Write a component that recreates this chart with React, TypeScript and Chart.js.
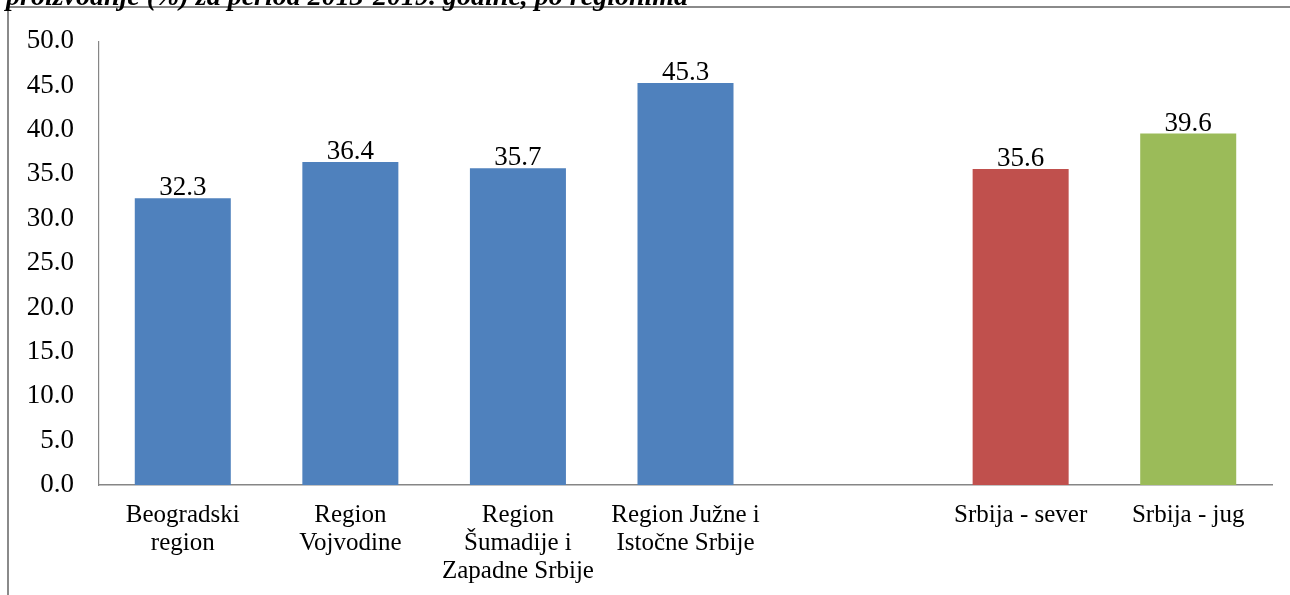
import { useEffect, useRef } from "react";
import { Chart, registerables } from "chart.js";

Chart.register(...registerables);

// Categories (multi-line labels); the empty slot separates regions from the north/south totals
const categories: (string | string[])[] = [
  ["Beogradski", "region"],
  ["Region", "Vojvodine"],
  ["Region", "Šumadije i", "Zapadne Srbije"],
  ["Region Južne i", "Istočne Srbije"],
  "",
  ["Srbija - sever"],
  ["Srbija - jug"],
];

const values: (number | null)[] = [32.3, 36.4, 35.7, 45.3, null, 35.6, 39.6];

const barColors = ["#4F81BD", "#4F81BD", "#4F81BD", "#4F81BD", "#4F81BD", "#C0504D", "#9BBB59"];

const titleText = "proizvodnje (%) za period 2013-2019. godine, po regionima";

const yMin = 0;
const yMax = 50;
const yStep = 5;

const FONT = "'Liberation Serif', 'Times New Roman', serif";

// Draws the frame, the (cropped) heading and the value labels above each bar
const decorations = {
  id: "decorations",
  afterDraw(chart: Chart) {
    const ctx = chart.ctx;
    ctx.save();
    // frame
    ctx.strokeStyle = "#8a8a8a";
    ctx.lineWidth = 2;
    ctx.beginPath();
    ctx.moveTo(8, 600);
    ctx.lineTo(8, 7);
    ctx.lineTo(1300, 7);
    ctx.stroke();
    // heading
    ctx.fillStyle = "#000";
    ctx.font = `italic bold 28px ${FONT}`;
    ctx.textAlign = "left";
    ctx.textBaseline = "alphabetic";
    ctx.fillText(titleText, 6, 5);
    // value labels
    ctx.font = `27px ${FONT}`;
    ctx.textAlign = "center";
    const meta = chart.getDatasetMeta(0);
    meta.data.forEach((bar: any, i: number) => {
      const v = values[i];
      if (v == null) return;
      ctx.fillText(v.toFixed(1), bar.x, bar.y - 3);
    });
    ctx.restore();
  },
};

export default function App() {
  const canvasRef = useRef<HTMLCanvasElement | null>(null);

  useEffect(() => {
    if (!canvasRef.current) return;
    const chart = new Chart(canvasRef.current, {
      type: "bar",
      data: {
        labels: categories,
        datasets: [
          {
            data: values,
            backgroundColor: barColors,
            borderWidth: 0,
            categoryPercentage: 1,
            barPercentage: 0.573,
          },
        ],
      },
      options: {
        animation: false,
        responsive: false,
        maintainAspectRatio: false,
        layout: { padding: { left: 0, top: 38, right: 18, bottom: 0 } },
        plugins: {
          legend: { display: false },
          tooltip: { enabled: false },
          title: { display: false },
        },
        scales: {
          x: {
            grid: { display: false, drawTicks: false },
            border: { display: true, color: "#868686", width: 1.5 },
            ticks: {
              color: "#000",
              font: { family: FONT, size: 25, lineHeight: 1.12 },
              padding: 16,
              maxRotation: 0,
              autoSkip: false,
            },
            afterFit: (scale: any) => {
              scale.height = 110;
            },
          },
          y: {
            min: yMin,
            max: yMax,
            grid: { display: false, drawTicks: false },
            border: { display: true, color: "#868686", width: 1.2 },
            ticks: {
              stepSize: yStep,
              color: "#000",
              font: { family: FONT, size: 27 },
              padding: 25,
              callback: (v: any) => Number(v).toFixed(1),
            },
            afterFit: (scale: any) => {
              scale.width = 99;
            },
          },
        },
      },
      plugins: [decorations],
    });
    return () => chart.destroy();
  }, []);

  return (
    <div
      style={{
        position: "absolute",
        left: 0,
        top: 0,
        width: 1290,
        height: 595,
        overflow: "hidden",
        background: "#fff",
      }}
    >
      <canvas ref={canvasRef} width={1290} height={595} style={{ display: "block" }} />
    </div>
  );
}
